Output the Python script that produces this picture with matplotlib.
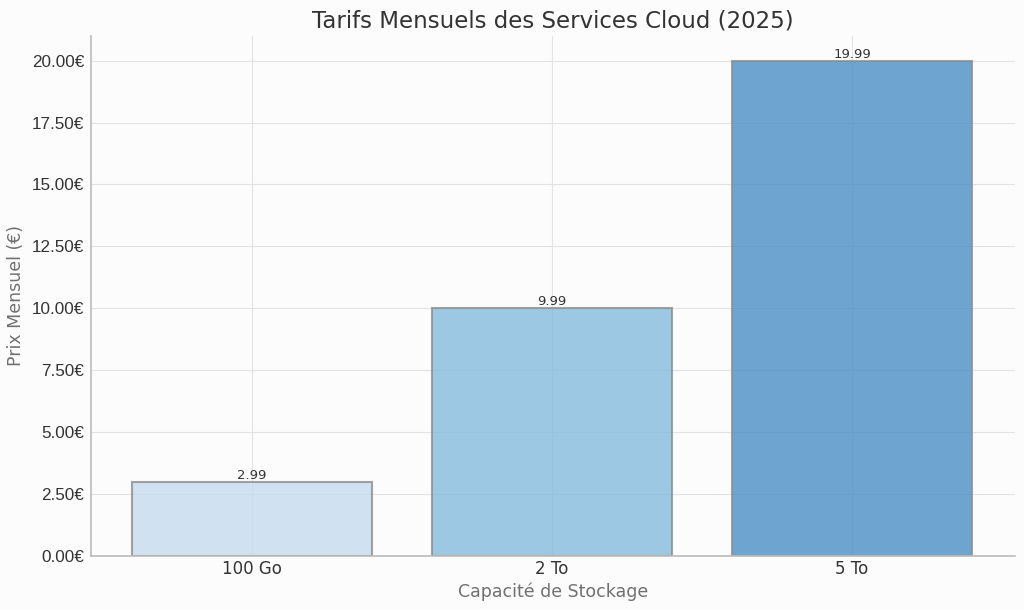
import matplotlib
matplotlib.use("Agg")
import matplotlib.pyplot as plt
from matplotlib.ticker import FuncFormatter

categories = ["100 Go", "2 To", "5 To"]
prices = [2.99, 9.99, 19.99]
colors = ["#c6dbef", "#85bcdd", "#4a8fc6"]

plt.rcParams['font.family'] = ['DejaVu Sans']
fig = plt.figure(figsize=(10.24, 6.10), dpi=100, facecolor="#fcfcfc")
ax = fig.add_axes([0.089, 0.089, 0.902, 0.852])
ax.set_facecolor("#fcfcfc")

x = range(len(categories))
bars = ax.bar(x, prices, width=0.8, color=colors, alpha=0.8,
              edgecolor="#8c8c8c", linewidth=1.5, zorder=2)
for b, v in zip(bars, prices):
    ax.text(b.get_x() + b.get_width() / 2, v, f"{v:.2f}", ha="center", va="bottom",
            fontsize=9.5, color="#333333", zorder=3)

ax.set_xticks(list(x))
ax.set_xticklabels(categories)
ax.set_xlim(-0.537, 2.543)
ax.set_ylim(0, 21)
ax.set_yticks([0, 2.5, 5, 7.5, 10, 12.5, 15, 17.5, 20])
ax.yaxis.set_major_formatter(FuncFormatter(lambda v, p: f"{v:.2f}€"))
ax.grid(True, color="#e3e3e3", linewidth=0.8, zorder=0)
ax.set_axisbelow(True)
ax.tick_params(axis="x", labelsize=12, colors="#333333", length=0, pad=3)
ax.tick_params(axis="y", labelsize=12, colors="#333333", length=0, pad=5)
for lbl in ax.get_yticklabels():
    lbl.set_family(['Liberation Sans', 'DejaVu Sans'])
    lbl.set_fontsize(12.3)
for s in ["top", "right"]:
    ax.spines[s].set_visible(False)
for s in ["left", "bottom"]:
    ax.spines[s].set_color("#bbbbbb")
    ax.spines[s].set_linewidth(1.2)

ax.set_title("Tarifs Mensuels des Services Cloud (2025)", fontsize=16.5, color="#333333", pad=6)
ax.set_xlabel("Capacité de Stockage", fontsize=12.5, color="#707070", labelpad=3)
ax.set_ylabel("Prix Mensuel (€)", fontsize=12.5, color="#707070", labelpad=5)

fig.savefig("out.png", dpi=100, facecolor=fig.get_facecolor())
